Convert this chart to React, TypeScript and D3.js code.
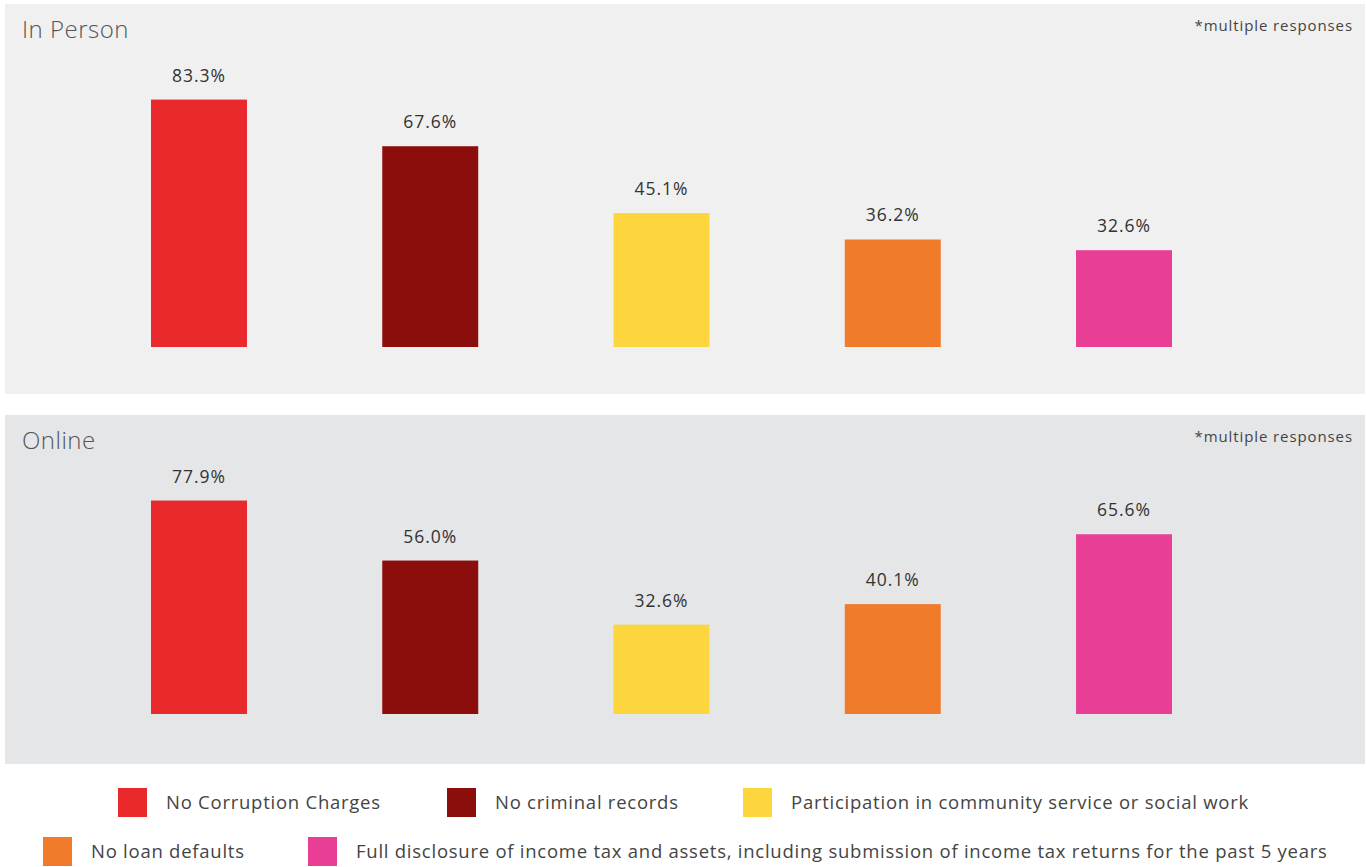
import React from "react";
import * as d3 from "d3";

const categories = [
  "No Corruption Charges",
  "No criminal records",
  "Participation in community service or social work",
  "No loan defaults",
  "Full disclosure of income tax and assets, including submission of income tax returns for the past 5 years",
];
const colors = ["#e9292b", "#8b0e0c", "#fdd53c", "#f07b2b", "#e93e96"];
const inPersonValues = [83.3, 67.6, 45.1, 36.2, 32.6];
const onlineValues = [77.9, 56.0, 32.6, 40.1, 65.6];

const W = 1366;
const H = 867;
const FONT = "'Open Sans', 'Noto Sans', sans-serif";

const x = d3.scaleBand<number>().domain(d3.range(categories.length)).range([151, 1172]).paddingInner(0.585).paddingOuter(0);

type PanelProps = { title: string; values: number[]; top: number; height: number; bg: string; base: number; pxPerPct: number };

function Panel({ title, values, top, height, bg, base, pxPerPct }: PanelProps) {
  const y = d3.scaleLinear().domain([0, 100]).range([base, base - 100 * pxPerPct]);
  return (
    <g>
      <rect x={5} y={top} width={1360} height={height} fill={bg} />
      <text x={22} y={top + 34} fontSize={24} fontWeight={300} letterSpacing={0.5} fill="#555" fontFamily={FONT}>{title}</text>
      <text x={1353} y={top + 27} fontSize={15} fontWeight={500} letterSpacing={0.9} fill="#444" textAnchor="end" fontFamily={FONT}>*multiple responses</text>
      {values.map((v, i) => (
        <g key={i}>
          <rect x={x(i)} y={y(v)} width={x.bandwidth()} height={y(0) - y(v)} fill={colors[i]} />
          <text x={(x(i) as number) + x.bandwidth() / 2} y={y(v) - 18} fontSize={17.5} fontWeight={500} letterSpacing={1} fill="#333" textAnchor="middle" fontFamily={FONT}>
            {v.toFixed(1)}%
          </text>
        </g>
      ))}
    </g>
  );
}

const legendPos = [
  { x: 118, y: 788 },
  { x: 447, y: 788 },
  { x: 743, y: 788 },
  { x: 43, y: 837 },
  { x: 308, y: 837 },
];

export default function App() {
  return (
    <svg width={W} height={H} style={{ position: "absolute", left: 0, top: 0 }}>
      <rect x={0} y={0} width={W} height={H} fill="#fff" />
      <Panel title="In Person" values={inPersonValues} top={4} height={390} bg="#f0f0f0" base={347} pxPerPct={2.97} />
      <Panel title="Online" values={onlineValues} top={415} height={349} bg="#e5e6e8" base={714} pxPerPct={2.74} />
      {categories.map((c, i) => (
        <g key={c}>
          <rect x={legendPos[i].x} y={legendPos[i].y} width={29} height={29} fill={colors[i]} />
          <text x={legendPos[i].x + 48} y={legendPos[i].y + 21} fontSize={18.5} letterSpacing={0.75} fill="#444" fontFamily={FONT}>{c}</text>
        </g>
      ))}
    </svg>
  );
}
